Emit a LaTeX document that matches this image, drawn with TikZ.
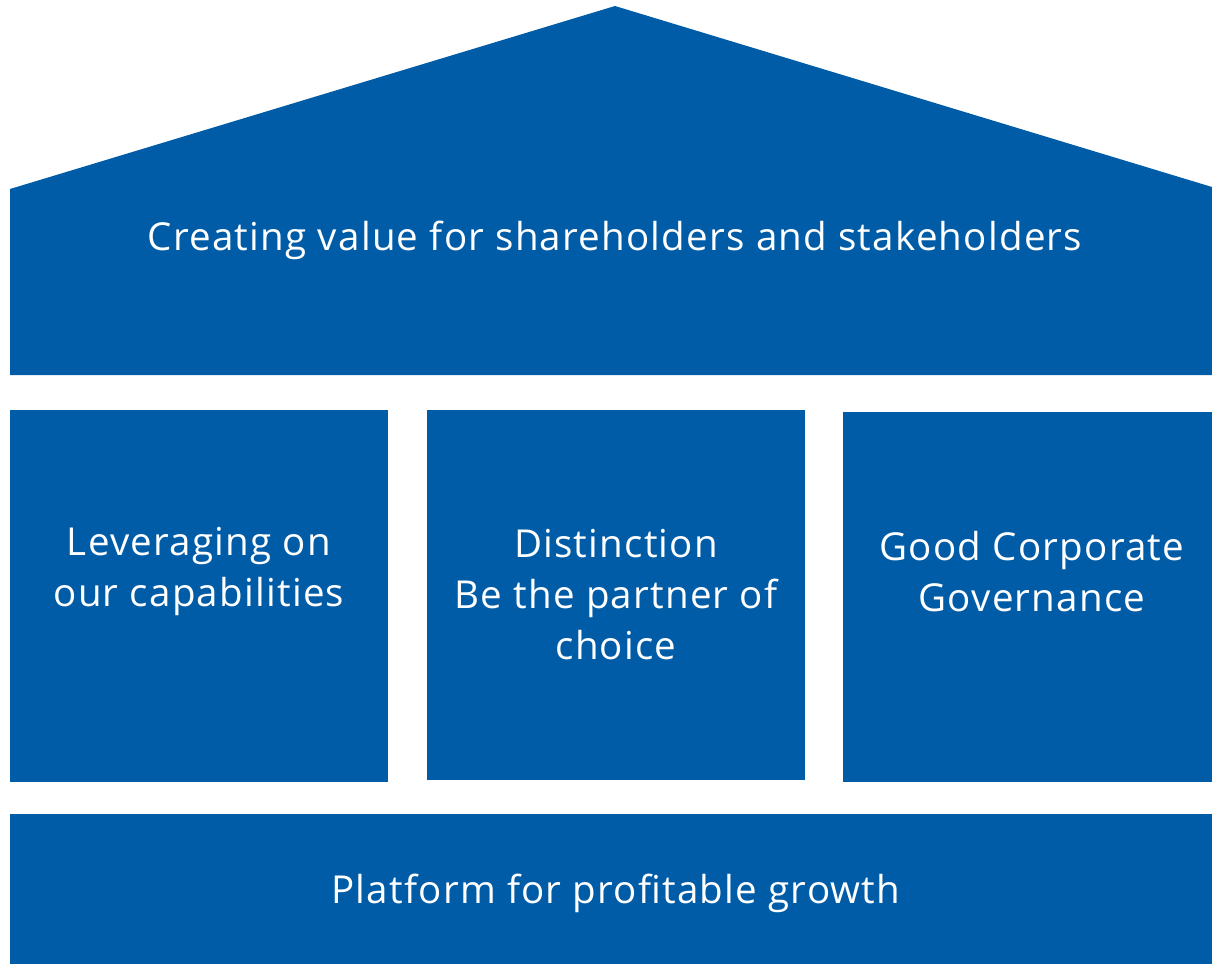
\documentclass[tikz,border=0pt]{standalone}
\usepackage{fontspec}
\setmainfont{Open Sans}[LetterSpace=3.2]
\definecolor{brandblue}{RGB}{0,92,167}
\begin{document}
\begin{tikzpicture}[x=1pt,y=-1pt,
  block/.style={fill=brandblue,draw=none,inner sep=0pt,anchor=north west},
  label/.style={text=white,font=\fontsize{38.5}{51}\selectfont,align=center,inner sep=0pt}]
\useasboundingbox (0,0) rectangle (1212,964);
% roof
\fill[brandblue] (10,375) -- (10,189) -- (615,6) -- (1212,187) -- (1212,375) -- cycle;
\node[label] (roof) at (615,240) {Creating value for shareholders and stakeholders};
% pillars
\node[block,minimum width=378pt,minimum height=372pt] (p1) at (10,410) {};
\node[block,minimum width=378pt,minimum height=370pt] (p2) at (427,410) {};
\node[block,minimum width=369pt,minimum height=370pt] (p3) at (843,412) {};
\node[label] (t1) at (199,571) {Leveraging on\\our capabilities};
\node[label] (t2) at (616,595) {Distinction\\Be the partner of\\choice};
\node[label] (t3) at (1032,572) {Good Corporate\\Governance};
% base
\node[block,minimum width=1202pt,minimum height=150pt] (base) at (10,814) {};
\node[label] at (616,893) {Platform for profitable growth};
\end{tikzpicture}
\end{document}
